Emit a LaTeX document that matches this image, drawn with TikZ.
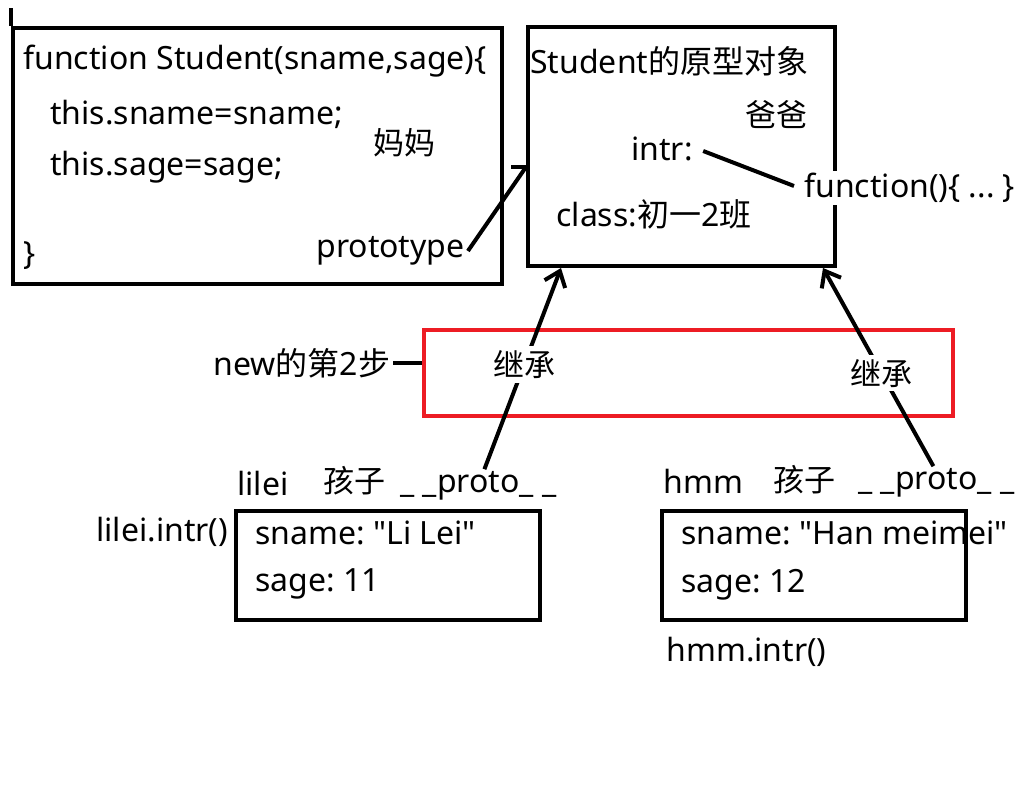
\documentclass[tikz,border=0pt]{standalone}
\usepackage{fontspec}
\setmainfont{Noto Sans}
\newfontfamily\cjk{Noto Sans CJK SC}
\usetikzlibrary{arrows.meta, positioning, calc, fit}
\definecolor{PaintRed}{HTML}{ED1C24}
\frenchspacing

\begin{document}
\begin{tikzpicture}[
    x=0.5pt, y=-0.5pt,   % one unit = one pixel of the sketch, y down
    box/.style={draw, line width=2pt, inner sep=0pt},
    txt/.style={anchor=west, inner sep=0pt, font=\fontsize{16}{18}\selectfont},
    zh/.style={anchor=west, inner sep=0pt, font=\fontsize{15.5}{18}\selectfont\cjk},
    link/.style={line width=2pt},
    inherit/.style={link, -{Straight Barb[length=7pt, width=11pt, line width=2pt]}},
    tag/.style={fill=white, inner sep=2pt, font=\fontsize{15.5}{18}\selectfont\cjk}
]
    \useasboundingbox (0,0) rectangle (1018,790);

    % === CONSTRUCTOR (mother) ===
    \node[txt] (CtorHead) at (23,61) {function Student(sname,sage)\{};
    \node[txt] (CtorName) at (50,114) {this.sname=sname;};
    \node[txt] (CtorAge) at (50,167) {this.sage=sage;};
    \node[zh] (Mama) at (373,143) {妈妈};
    \node[txt] (CtorEnd) at (23,256) {\}};
    \node[txt] (Proto) at (316,251) {prototype};
    \node[box, fit={(13,28) (502,284)}] (CtorBox) {};
    \draw[link] (CtorBox.north west) -- ++(0,-18);

    % === PROTOTYPE OBJECT (father) ===
    \node[box, fit={(528,27) (835,266)}] (ProtoBox) {};
    \node[txt] (ProtoTitle) at (530,61) {Student{\cjk 的原型对象}};
    \node[zh] (Baba) at (745,115) {爸爸};
    \node[txt] (Intr) at (631,149) {intr:};
    \node[txt, fill=white, inner sep=1pt] (FuncBody) at (802,188) {function()\{ ... \}};
    \node[txt] (ClassLine) at (556,214) {class:{\cjk 初一}2{\cjk 班}};
    \draw[link] ($(Intr.east)+(10,2)$) -- ($(FuncBody.west)+(-8,-2)$);

    % prototype -> prototype object
    \coordinate (ProtoIn) at (ProtoBox.west |- 0,167);
    \draw[link] ($(Proto.east)+(3,0)$) -- (ProtoIn);
    \draw[link] (ProtoIn) -- ++(-15,0);

    % === NEW, STEP 2 ===
    \node[box, draw=PaintRed, fit={(424,330) (953,416)}] (RedBox) {};
    \node[txt] (NewStep) at (213,363) {new{\cjk 的第}2{\cjk 步}};
    \draw[link] ($(NewStep.east)+(3,0)$) -- (NewStep.east -| RedBox.west);

    % === CHILD lilei ===
    \node[txt] (LileiName) at (237,484) {lilei};
    \node[zh] (LileiKid) at (323,481) {孩子};
    \node[txt] (LileiProto) at (400,486) {\_ \_proto\_ \_};
    \node[txt] (LileiCall) at (96,532) {lilei.intr()};
    \node[txt] (LileiSname) at (255,533) {sname: \textquotedbl Li Lei\textquotedbl};
    \node[txt] (LileiSage) at (255,584) {sage: 11};
    \node[box, fit={(236,511) (540,620)}] (LileiBox) {};

    % === CHILD hmm ===
    \node[txt] (HmmName) at (663,481) {hmm};
    \node[zh] (HmmKid) at (773,480) {孩子};
    \node[txt] (HmmProto) at (858,483) {\_ \_proto\_ \_};
    \node[txt] (HmmSname) at (681,533) {sname: \textquotedbl Han meimei\textquotedbl};
    \node[txt] (HmmSage) at (681,585) {sage: 12};
    \node[txt] (HmmCall) at (666,652) {hmm.intr()};
    \node[box, fit={(662,511) (966,620)}] (HmmBox) {};

    % === INHERITANCE ===
    \coordinate (LeftIn) at ($(ProtoBox.south west)+(35,0)$);
    \coordinate (RightIn) at ($(ProtoBox.south east)+(-14,0)$);
    \draw[inherit] ($(LileiProto.north)+(6,-2)$) -- node[tag, pos=0.52] {继承} (LeftIn);
    \draw[inherit] ($(HmmProto.north)+(-3,-2)$) -- node[tag, pos=0.47] {继承} (RightIn);
\end{tikzpicture}
\end{document}
